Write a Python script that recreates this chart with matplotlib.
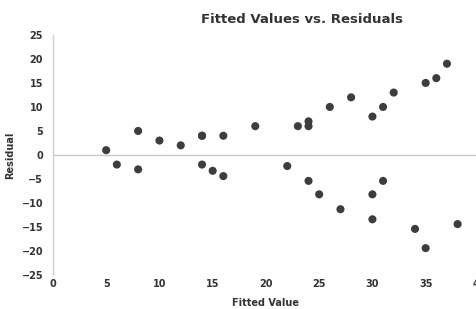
import matplotlib
matplotlib.use("Agg")
import matplotlib.pyplot as plt

fitted = [5, 6, 8, 8, 10, 12, 14, 14, 14, 15, 16, 16, 19, 22, 23, 24, 24, 24,
          25, 26, 27, 28, 30, 30, 30, 31, 31, 32, 34, 35, 35, 36, 37, 38]
resid = [1, -2, 5, -3, 3, 2, 4, -2, 4, -3.3, 4, -4.4, 6, -2.3, 6, 7, 6, -5.4,
         -8.2, 10, -11.3, 12, 8, -8.2, -13.4, 10, -5.4, 13, -15.4, 15, -19.4, 16, 19, -14.4]
xticks = [0, 5, 10, 15, 20, 25, 30, 35, 40]
yticks = [-25, -20, -15, -10, -5, 0, 5, 10, 15, 20, 25]

fig = plt.figure(figsize=(4.77, 3.09), dpi=100)
ax = fig.add_axes([0.111, 0.110, 0.893, 0.777])
ax.set_xlim(0, 40)
ax.set_ylim(-25, 25)
ax.axhline(0, color="#c8c8c8", lw=1.0, zorder=1)
ax.scatter(fitted, resid, s=34, color="#3d3d3d", edgecolors="none", zorder=3)

for s in ["top", "right", "bottom"]:
    ax.spines[s].set_visible(False)
ax.spines["left"].set_color("#d0d0d0")
ax.spines["left"].set_linewidth(1.0)
ax.set_xticks(xticks)
ax.set_yticks(yticks)
ax.tick_params(length=0, labelsize=7, colors="#333333")
ax.tick_params(axis="y", pad=7)
ax.tick_params(axis="x", pad=3)
for lab in ax.get_xticklabels() + ax.get_yticklabels():
    lab.set_fontweight("bold")
ax.set_xlabel("Fitted Value", fontsize=7, fontweight="bold", color="#333333", labelpad=6)
ax.set_ylabel("Residual", fontsize=7, fontweight="bold", color="#333333", labelpad=5)
fig.text(0.633, 0.937, "Fitted Values vs. Residuals", ha="center", va="center",
         fontsize=9.5, fontweight="bold", color="#333333")
fig.savefig("out.png", dpi=100)
